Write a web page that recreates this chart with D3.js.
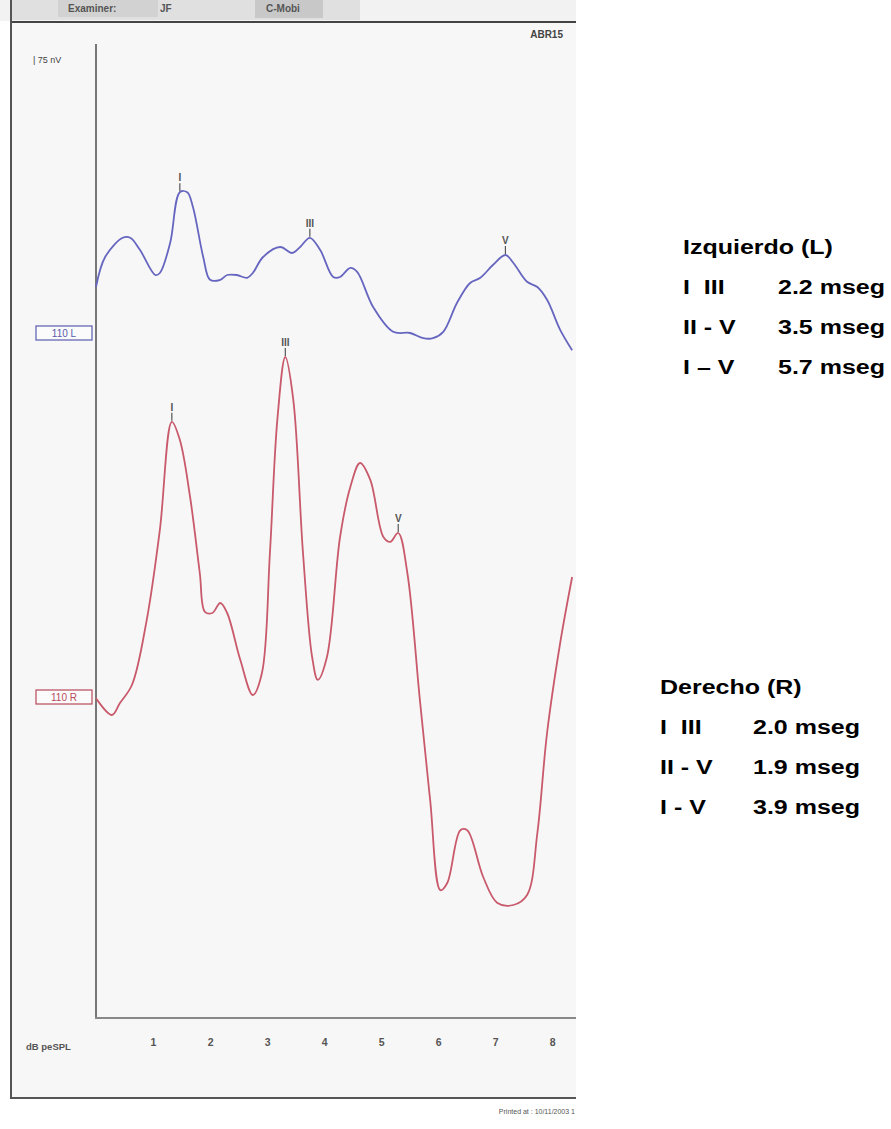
<!DOCTYPE html>
<html>
<head>
<meta charset="utf-8">
<script src="https://cdn.jsdelivr.net/npm/d3@7"></script>
<style>
  html, body { margin: 0; padding: 0; background: #ffffff; }
  svg { display: block; }
  text { font-family: "Liberation Sans", Arial, sans-serif; }
</style>
</head>
<body>
<svg id="chart" width="891" height="1129"></svg>
<script>
// ---------------- DATA ----------------
// Time axis ticks (ms)
const xTicks = [1, 2, 3, 4, 5, 6, 7, 8];

// Left ear (L, 110 dB) trace: time (ms) and amplitude (nV, relative to baseline)
const leftTime = [0.00, 0.16, 0.47, 0.60, 0.77, 1.04, 1.12, 1.30, 1.47, 1.60, 1.70, 1.88, 2.00, 2.18, 2.30, 2.47, 2.65, 2.75, 2.93, 3.23, 3.44, 3.58, 3.75, 3.93, 4.16, 4.28, 4.46, 4.58, 4.86, 5.21, 5.51, 5.74, 5.91, 6.09, 6.33, 6.56, 6.74, 6.96, 7.18, 7.32, 7.56, 7.74, 7.91, 8.14, 8.35];
const leftAmp  = [115, 190, 238, 238, 208, 145, 150, 225, 352, 352, 315, 190, 133, 133, 145, 145, 138, 150, 190, 215, 200, 215, 238, 208, 140, 140, 163, 153, 65, 3, 0, -13, -13, 3, 75, 125, 138, 170, 195, 175, 128, 115, 83, 8, -43];

// Right ear (R, 110 dB) trace
const rightTime = [0.00, 0.28, 0.42, 0.63, 0.89, 1.12, 1.33, 1.47, 1.65, 1.82, 1.91, 2.04, 2.18, 2.30, 2.53, 2.75, 2.91, 3.05, 3.18, 3.32, 3.46, 3.63, 3.79, 3.89, 4.05, 4.28, 4.46, 4.63, 4.81, 5.04, 5.16, 5.30, 5.46, 5.68, 5.86, 6.04, 6.16, 6.39, 6.51, 6.79, 7.04, 7.32, 7.56, 7.74, 7.91, 8.14, 8.35];
const rightAmp  = [-3, -45, -15, 30, 193, 418, 688, 643, 500, 310, 213, 210, 235, 210, 93, 5, 60, 360, 693, 850, 743, 360, 100, 43, 100, 400, 525, 585, 543, 400, 388, 410, 310, -8, -258, -483, -465, -333, -333, -450, -515, -520, -495, -340, -90, 135, 300];

// Wave peak markers
const leftPeakLabels  = ["I", "III", "V"];
const leftPeakTimes   = [1.47, 3.75, 7.18];
const rightPeakLabels = ["I", "III", "V"];
const rightPeakTimes  = [1.33, 3.32, 5.30];

// Interpeak latency tables
const leftTitle  = "Izquierdo (L)";
const rightTitle = "Derecho (R)";
const intervalNames = ["I  III", "II - V", "I \u2013 V"];
const intervalNamesR = ["I  III", "II - V", "I - V"];
const leftLatencies  = ["2.2 mseg", "3.5 mseg", "5.7 mseg"];
const rightLatencies = ["2.0 mseg", "1.9 mseg", "3.9 mseg"];

// ---------------- LAYOUT ----------------
const svg = d3.select("#chart");
const blue = "#6666c0";
const red = "#c85a6c";

const x = d3.scaleLinear().domain([0, 8.4]).range([96, 575]);
const amp = d3.scaleLinear().domain([0, 75]).range([0, -30]); // 75 nV = 30 px
const baseL = 333, baseR = 697;

const defs = svg.append("defs");
defs.append("clipPath").attr("id", "scan").append("rect")
  .attr("x", 0).attr("y", 0).attr("width", 576).attr("height", 1129);

const scan = svg.append("g").attr("clip-path", "url(#scan)");

// scanned paper background
scan.append("rect").attr("x", 10).attr("y", 22).attr("width", 570).attr("height", 1076).attr("fill", "#f7f7f7");

// header band
scan.append("rect").attr("x", 0).attr("y", 0).attr("width", 576).attr("height", 21).attr("fill", "#f2f2f2");
scan.append("rect").attr("x", 10).attr("y", 0).attr("width", 350).attr("height", 20).attr("fill", "#e0e0e0");
scan.append("rect").attr("x", 58).attr("y", 0).attr("width", 100).attr("height", 17).attr("fill", "#d2d2d2");
scan.append("rect").attr("x", 255).attr("y", 0).attr("width", 68).attr("height", 18).attr("fill", "#c8c8c8");
scan.append("text").attr("x", 68).attr("y", 12).attr("font-size", 10).attr("font-weight", "bold").attr("fill", "#555").text("Examiner:");
scan.append("text").attr("x", 160).attr("y", 12).attr("font-size", 10).attr("font-weight", "bold").attr("fill", "#555").text("JF");
scan.append("text").attr("x", 266).attr("y", 12).attr("font-size", 10).attr("font-weight", "bold").attr("fill", "#555").text("C-Mobi");
scan.append("line").attr("x1", 10).attr("x2", 580).attr("y1", 22).attr("y2", 22).attr("stroke", "#444").attr("stroke-width", 2);

// outer frame
scan.append("line").attr("x1", 11).attr("x2", 11).attr("y1", 0).attr("y2", 1098).attr("stroke", "#555").attr("stroke-width", 2);
scan.append("line").attr("x1", 10).attr("x2", 580).attr("y1", 1098).attr("y2", 1098).attr("stroke", "#555").attr("stroke-width", 2);

// inner plot frame
scan.append("line").attr("x1", 96).attr("x2", 96).attr("y1", 44).attr("y2", 1019).attr("stroke", "#777").attr("stroke-width", 2);
scan.append("line").attr("x1", 95).attr("x2", 580).attr("y1", 1018).attr("y2", 1018).attr("stroke", "#888").attr("stroke-width", 2);

// labels
scan.append("text").attr("x", 563).attr("y", 38).attr("text-anchor", "end").attr("font-size", 10).attr("font-weight", "bold").attr("fill", "#444").text("ABR15");
scan.append("text").attr("x", 33).attr("y", 63).attr("font-size", 9).attr("fill", "#444").text("| 75 nV");
scan.append("text").attr("x", 26).attr("y", 1050).attr("font-size", 9.5).attr("font-weight", "bold").attr("fill", "#555").text("dB peSPL");
scan.append("text").attr("x", 575).attr("y", 1114).attr("text-anchor", "end").attr("font-size", 7).attr("fill", "#555").text("Printed at : 10/11/2003 1");

// x axis tick labels
const axis = d3.axisBottom(x).tickValues(xTicks).tickSize(0).tickFormat(d3.format("d"));
const axG = scan.append("g").attr("transform", "translate(0,1036)").call(axis);
axG.select(".domain").remove();
axG.selectAll("text").attr("font-size", 10.5).attr("font-weight", "bold").attr("fill", "#555").attr("font-family", "Liberation Sans, Arial, sans-serif");

// channel label boxes
function chanLabel(y, txt, color) {
  scan.append("rect").attr("x", 36).attr("y", y - 7).attr("width", 56).attr("height", 14)
    .attr("fill", "#fbfbfb").attr("stroke", color).attr("stroke-width", 1.2);
  scan.append("text").attr("x", 64).attr("y", y + 4).attr("text-anchor", "middle")
    .attr("font-size", 10).attr("fill", color).text(txt);
}
chanLabel(333, "110 L", "#5a5ab0");
chanLabel(697, "110 R", "#b84a5a");

// traces
function drawTrace(times, amps, base, color) {
  const data = times.map((t, i) => ({ t, v: amps[i] }));
  const line = d3.line().x(d => x(d.t)).y(d => base + amp(d.v)).curve(d3.curveCatmullRom.alpha(0.5));
  scan.append("path").datum(data).attr("d", line).attr("fill", "none")
    .attr("stroke", color).attr("stroke-width", 1.8).attr("stroke-linejoin", "round");
  return line;
}
drawTrace(leftTime, leftAmp, baseL, blue);
drawTrace(rightTime, rightAmp, baseR, red);

// peak markers
function interp(times, amps, t) {
  const i = times.findIndex(v => v >= t);
  if (i <= 0) return amps[Math.max(i, 0)];
  const f = (t - times[i - 1]) / (times[i] - times[i - 1]);
  return amps[i - 1] + f * (amps[i] - amps[i - 1]);
}
function drawPeaks(labels, ptimes, times, amps, base) {
  labels.forEach((lab, i) => {
    const px = x(ptimes[i]);
    const py = base + amp(interp(times, amps, ptimes[i]));
    scan.append("line").attr("x1", px).attr("x2", px).attr("y1", py - 1).attr("y2", py - 9)
      .attr("stroke", "#555").attr("stroke-width", 1.2);
    scan.append("text").attr("x", px).attr("y", py - 11).attr("text-anchor", "middle")
      .attr("font-size", 10).attr("font-weight", "bold").attr("fill", "#555").text(lab);
  });
}
drawPeaks(leftPeakLabels, leftPeakTimes, leftTime, leftAmp, baseL);
drawPeaks(rightPeakLabels, rightPeakTimes, rightTime, rightAmp, baseR);

// latency tables (text is slightly wide, as in the source)
function wideText(g, tx, ty, str) {
  g.append("text").attr("transform", `translate(${tx},${ty}) scale(1.25,1)`)
    .style("white-space", "pre").text(str);
}
function table(x0, xv, y0, title, names, vals) {
  const g = svg.append("g").attr("font-size", 20).attr("font-weight", "bold").attr("fill", "#000");
  wideText(g, x0, y0, title);
  names.forEach((n, i) => {
    wideText(g, x0, y0 + 40 * (i + 1), n);
    wideText(g, xv, y0 + 40 * (i + 1), vals[i]);
  });
}
table(683, 778, 254, leftTitle, intervalNames, leftLatencies);
table(660, 753, 694, rightTitle, intervalNamesR, rightLatencies);
</script>
</body>
</html>
